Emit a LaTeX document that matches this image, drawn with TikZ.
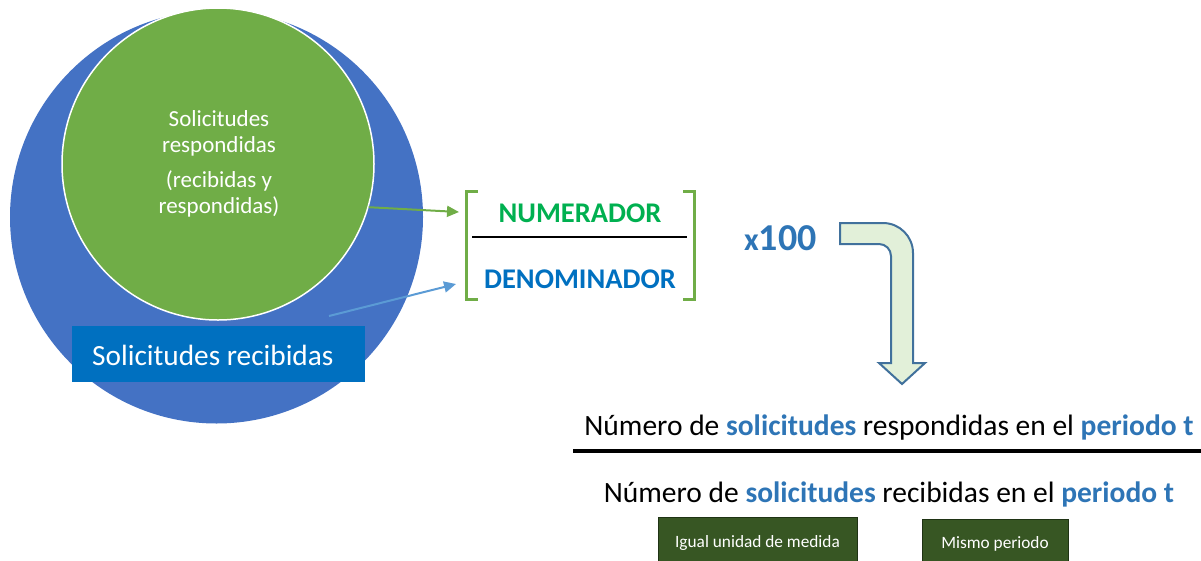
\documentclass[tikz,border=0pt]{standalone}
\usepackage{fontspec}
\setmainfont{Carlito}
\usetikzlibrary{arrows.meta}
\definecolor{outerblue}{HTML}{4472C4}
\definecolor{innergreen}{HTML}{70AD47}
\definecolor{labelblue}{HTML}{0070C0}
\definecolor{numgreen}{HTML}{00B050}
\definecolor{txtblue}{HTML}{2E75B6}
\definecolor{arrowfill}{HTML}{E2F0D9}
\definecolor{arrowdraw}{HTML}{41719C}
\definecolor{boxgreen}{HTML}{375623}
\definecolor{boxedge}{HTML}{1F3314}
\definecolor{lightblue}{HTML}{5B9BD5}
\tikzset{
  fs/.style={font=\fontsize{#1}{30}\selectfont},
  fsb/.style={font=\fontsize{#1}{30}\selectfont\bfseries},
  bracketline/.style={draw=innergreen, line width=3pt},
  darkbox/.style={fill=boxgreen, draw=boxedge, line width=1pt, text=white, inner sep=0pt, fs=17.3},
  plain/.style={inner sep=0pt, text=black},
}
\begin{document}
\begin{tikzpicture}[x=1pt,y=-1pt]
\useasboundingbox (0,0) rectangle (1201,560);
\clip (0,0) rectangle (1201,560);
% circles
\node[circle, fill=outerblue, minimum size=413pt, inner sep=0pt] (outer) at (216.5,217) {};
\node[circle, fill=innergreen, draw=white, line width=1.5pt, minimum size=312pt, inner sep=0pt] (inner) at (218,164) {};
\node[font=\fontsize{23}{26}\selectfont, text=white, align=center, inner sep=0pt] (innertext) at (219,164)
  {Solicitudes\\respondidas\\[9pt](recibidas y\\respondidas)};
% label box
\node[fill=labelblue, minimum width=293pt, minimum height=56pt, inner sep=0pt] (recbox) at (218.5,354) {};
\node[fs=29.3, text=white, anchor=west, inner sep=0pt] (rectext) at (92,355) {Solicitudes recibidas};
% fraction
\node[minimum width=227pt, minimum height=107pt, inner sep=0pt] (frac) at (580.5,245.5) {};
\draw[bracketline] ([xshift=11pt]frac.north west) -- (frac.north west) -- (frac.south west) -- ([xshift=11pt]frac.south west);
\draw[bracketline] ([xshift=-11pt]frac.north east) -- (frac.north east) -- (frac.south east) -- ([xshift=-11pt]frac.south east);
\draw[line width=2pt] (472,237) -- (687,237);
\node[fsb=28.5, text=numgreen, inner sep=0pt] (num) at (580,213) {NUMERADOR};
\node[fsb=28.5, text=labelblue, inner sep=0pt] (den) at (580,279) {DENOMINADOR};
% connectors
\coordinate (ntip) at (459,212);
\coordinate (dtip) at (456,284);
\coordinate (dstart) at (329,316);
\draw[innergreen, line width=2pt, -{Triangle[length=12pt,width=11pt]}] (inner.-16) -- (ntip);
\draw[lightblue, line width=2pt, -{Triangle[length=12pt,width=11pt]}] (dstart) -- (dtip);
% x100
\node[inner sep=0pt, text=txtblue, anchor=base west] (times) at (744,250)
  {\bfseries\fontsize{32}{36}\selectfont x\fontsize{38}{40}\selectfont 100};
% bent arrow
\draw[fill=arrowfill, draw=arrowdraw, line width=2pt, line join=miter]
  (840,223) -- (883,223) arc[start angle=-90, end angle=0, radius=30]
  -- (913,363) -- (925,363) -- (902,384) -- (879,363) -- (891,363)
  -- (891,256) arc[start angle=0, end angle=-90, radius=12]
  -- (840,244) -- cycle;
% formula
\node[fs=29.5, plain] (numline) at (889,428)
  {Número de \textbf{\textcolor{txtblue}{solicitudes}} respondidas en el \textbf{\textcolor{txtblue}{periodo t}}};
\draw[line width=4pt] (573,451) -- (1201,451);
\node[fs=29.5, plain] (denline) at (889,494)
  {Número de \textbf{\textcolor{txtblue}{solicitudes}} recibidas en el \textbf{\textcolor{txtblue}{periodo t}}};
% boxes
\node[darkbox, minimum width=199pt, minimum height=52pt] (unit) at (757.5,543) {Igual unidad de medida};
\node[darkbox, minimum width=146pt, minimum height=50pt] (period) at (995,544) {Mismo periodo};
\end{tikzpicture}
\end{document}
